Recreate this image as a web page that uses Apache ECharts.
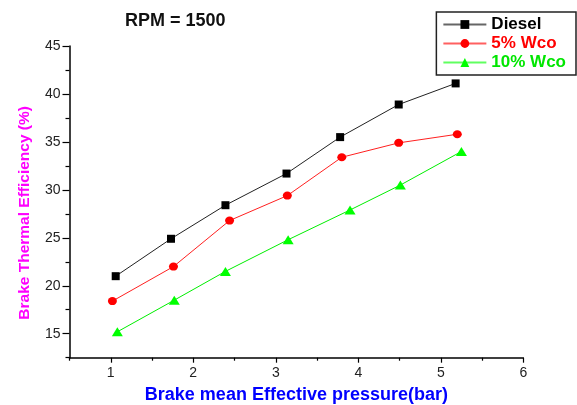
<!DOCTYPE html>
<html>
<head>
<meta charset="utf-8">
<script src="https://cdn.jsdelivr.net/npm/echarts@6/dist/echarts.min.js"></script>
<style>
  html, body { margin: 0; padding: 0; background: #fff; }
  #chart { width: 577px; height: 405px; }
</style>
</head>
<body>
<div id="chart"></div>
<script>
// Brake thermal efficiency vs. BMEP at 1500 rpm
const seriesNames = ['Diesel', '5% Wco', '10% Wco'];

const dieselBmep = [1.06, 1.73, 2.39, 3.13, 3.78, 4.49, 5.18];
const dieselBte  = [21.0, 24.9, 28.4, 31.7, 35.5, 38.9, 41.1];

const wco5Bmep = [1.02, 1.76, 2.44, 3.14, 3.80, 4.49, 5.20];
const wco5Bte  = [18.4, 22.0, 26.8, 29.4, 33.4, 34.9, 35.8];

const wco10Bmep = [1.08, 1.77, 2.39, 3.15, 3.90, 4.51, 5.25];
const wco10Bte  = [15.2, 18.5, 21.5, 24.8, 27.9, 30.5, 34.0];

const xMajorTicks = [1, 2, 3, 4, 5, 6];
const xMinorTicks = [0.5, 1.5, 2.5, 3.5, 4.5, 5.5];
const yMajorTicks = [15, 20, 25, 30, 35, 40, 45];
const yMinorTicks = [12.5, 17.5, 22.5, 27.5, 32.5, 37.5, 42.5];

const FONT = '"Liberation Sans", Arial, sans-serif';

const pairs = (xs, ys) => xs.map((x, i) => [x, ys[i]]);

const chart = echarts.init(document.getElementById('chart'), null, { renderer: 'canvas' });

const xBase = { type: 'value', min: 0.5, max: 6, gridIndex: 0, position: 'bottom', splitLine: { show: false } };
const yBase = { type: 'value', min: 12.5, max: 45, gridIndex: 0, position: 'left', splitLine: { show: false } };

chart.setOption({
  backgroundColor: '#fff',
  animation: false,
  title: {
    text: 'RPM = 1500',
    left: 125, top: 12, padding: 0,
    textStyle: { fontFamily: FONT, fontSize: 18, fontWeight: 'bold', color: '#111' }
  },
  legend: {
    orient: 'vertical',
    right: 1, top: 12,
    padding: [4, 10, 4, 6],
    itemGap: 2,
    itemWidth: 43, itemHeight: 11,
    borderColor: '#222', borderWidth: 1.5,
    backgroundColor: '#fff',
    data: [
      { name: seriesNames[0], textStyle: { color: '#000' }, lineStyle: { color: '#666' } },
      { name: seriesNames[1], textStyle: { color: '#ff0000' }, lineStyle: { color: '#ff6060' } },
      { name: seriesNames[2], textStyle: { color: '#00e600' }, lineStyle: { color: '#60ff60' } }
    ],
    textStyle: { fontFamily: FONT, fontSize: 17, fontWeight: 'bold', padding: [0, 0, 0, 0] }
  },
  grid: { left: 69.5, right: 53.7, top: 46, bottom: 47.3, containLabel: false, outerBoundsMode: 'none' },
  xAxis: [
    Object.assign({}, xBase, {
      name: 'Brake mean Effective pressure(bar)',
      nameLocation: 'middle', nameGap: 28,
      nameTextStyle: { fontFamily: FONT, fontSize: 18, fontWeight: 'bold', color: '#0000ff' },
      axisLine: { show: true, onZero: false, lineStyle: { color: '#000', width: 1.5 } },
      axisTick: { show: true, inside: false, length: 5, customValues: xMajorTicks, lineStyle: { color: '#000', width: 1.2 } },
      axisLabel: { show: true, margin: 8, customValues: xMajorTicks, fontFamily: FONT, fontSize: 14, color: '#222' }
    }),
    Object.assign({}, xBase, {
      axisLine: { show: false },
      axisTick: { show: true, inside: false, length: 3, customValues: xMinorTicks, lineStyle: { color: '#000', width: 1.2 } },
      axisLabel: { show: false }
    })
  ],
  yAxis: [
    Object.assign({}, yBase, {
      name: 'Brake Thermal Efficiency (%)',
      nameLocation: 'middle', nameGap: 37, nameRotate: 90,
      nameTextStyle: { fontFamily: FONT, fontSize: 15.5, fontWeight: 'bold', color: '#ff00ff', padding: [0, 22, 0, 0] },
      axisLine: { show: true, onZero: false, lineStyle: { color: '#000', width: 1.5 } },
      axisTick: { show: true, inside: false, length: 7, customValues: yMajorTicks, lineStyle: { color: '#000', width: 1.2 } },
      axisLabel: { show: true, margin: 9, customValues: yMajorTicks, fontFamily: FONT, fontSize: 14, color: '#222' }
    }),
    Object.assign({}, yBase, {
      axisLine: { show: false },
      axisTick: { show: true, inside: false, length: 4, customValues: yMinorTicks, lineStyle: { color: '#000', width: 1.2 } },
      axisLabel: { show: false }
    })
  ],
  series: [
    {
      name: seriesNames[0], type: 'line', xAxisIndex: 0, yAxisIndex: 0,
      data: pairs(dieselBmep, dieselBte),
      symbol: 'rect', symbolSize: 8,
      itemStyle: { color: '#000' },
      lineStyle: { color: '#222', width: 1 }
    },
    {
      name: seriesNames[1], type: 'line', xAxisIndex: 0, yAxisIndex: 0,
      data: pairs(wco5Bmep, wco5Bte),
      symbol: 'circle', symbolSize: [9, 8],
      itemStyle: { color: '#ff0000' },
      lineStyle: { color: '#ff2020', width: 1 }
    },
    {
      name: seriesNames[2], type: 'line', xAxisIndex: 0, yAxisIndex: 0,
      data: pairs(wco10Bmep, wco10Bte),
      symbol: 'triangle', symbolSize: [11, 9],
      itemStyle: { color: '#00ff00' },
      lineStyle: { color: '#00ee00', width: 1 }
    }
  ]
});
</script>
</body>
</html>
